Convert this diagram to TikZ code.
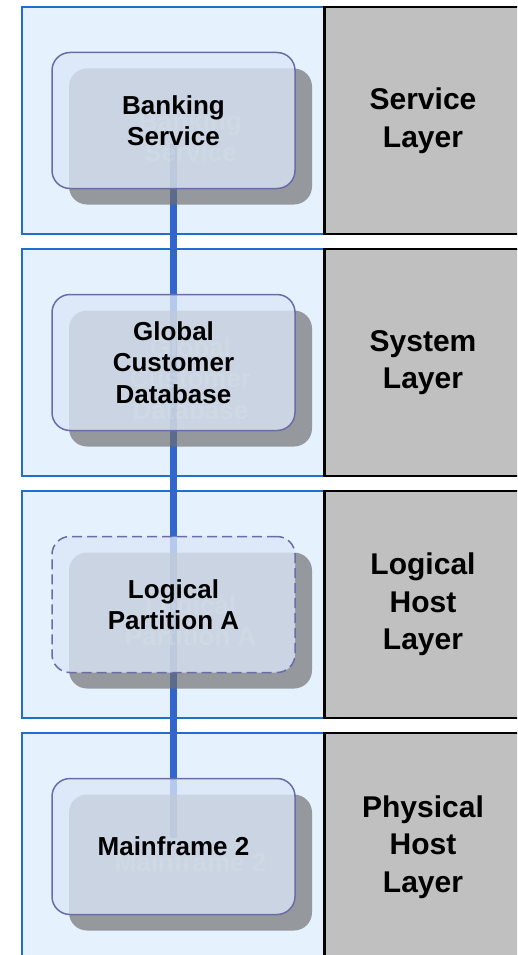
\documentclass[tikz,border=0pt]{standalone}
\usepackage{fontspec}
\setmainfont{Liberation Sans}
\definecolor{bandfill}{HTML}{E5F1FD}
\definecolor{bandline}{HTML}{1F6FD2}
\definecolor{namegray}{HTML}{C0C0C0}
\definecolor{linkblue}{HTML}{3366CC}
\definecolor{unitfill}{HTML}{DBE7F7}
\definecolor{unitline}{HTML}{6B6BA8}
\definecolor{shadowgray}{HTML}{707070}
\pgfdeclarelayer{bands}
\pgfdeclarelayer{links}
\pgfsetlayers{bands,links,main}
\begin{document}
\begin{tikzpicture}[x=1pt,y=-1pt,
  band/.style={draw=bandline, line width=1.5pt, fill=bandfill},
  namebox/.style={draw=black, line width=2.3pt, fill=namegray},
  namelabel/.style={font=\fontsize{30}{37.5}\selectfont\bfseries, align=center},
  unitbase/.style={rounded corners=18pt, minimum width=243pt, minimum height=136pt,
    inner sep=0pt, align=center, font=\fontsize{26}{31.5}\selectfont\bfseries},
  unit/.style={unitbase, draw=unitline, line width=1.5pt, fill=unitfill,
    fill opacity=.77, draw opacity=1, text opacity=1},
  unitshadow/.style={unitbase, fill=shadowgray, fill opacity=.68,
    text=white, text opacity=.18},
  link/.style={draw=linkblue, line width=7pt}
]
\useasboundingbox (0,0) rectangle (517,955);

% layer bands with their name panels
\begin{pgfonlayer}{bands}
  \clip (0,0) rectangle (517,955);
  \fill[white] (0,0) rectangle (517,955);
  \foreach \top in {7,249,491,733} {
    \path[band] (22,\top) rectangle (324.5,\top+227);
    \path[namebox] (324.5,\top) rectangle (530,\top+227);
  }
\end{pgfonlayer}

\node[namelabel] (svc-name)  at (423,120.5) {Service\\Layer};
\node[namelabel] (sys-name)  at (423,362.5) {System\\Layer};
\node[namelabel] (lh-name)   at (423,604.5) {Logical\\Host\\Layer};
\node[namelabel] (ph-name)   at (423,847)   {Physical\\Host\\Layer};

% drop shadows of the units
\node[unitshadow] (bank-sh) at (190.5,136.5) {Banking\\Service};
\node[unitshadow] (gcd-sh)  at (190.5,378.5) {Global\\Customer\\Database};
\node[unitshadow] (lpa-sh)  at (190.5,620.5) {Logical\\Partition A};
\node[unitshadow] (mf-sh)   at (190.5,862.5) {Mainframe 2};

% the units
\node[unit] (bank) at (173.5,120.5) {Banking\\Service};
\node[unit] (gcd)  at (173.5,362.5) {Global\\Customer\\Database};
\node[unit, dash pattern=on 10pt off 5pt] (lpa) at (173.5,604.5) {Logical\\Partition A};
\node[unit] (mf)   at (173.5,846.5) {Mainframe 2};

% vertical dependency line through all units
\begin{pgfonlayer}{links}
  \clip (0,0) rectangle (517,955);
  \coordinate (link-top) at ([yshift=-23pt]bank.center);
  \coordinate (link-bot) at ([yshift=9pt]mf.center);
  \draw[link] (link-top) -- (gcd.center) -- (lpa.center) -- (link-bot);
\end{pgfonlayer}
\end{tikzpicture}
\end{document}
